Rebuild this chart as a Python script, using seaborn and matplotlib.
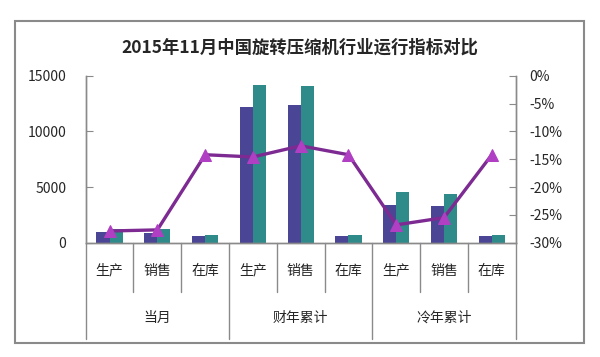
import pandas as pd
import seaborn as sns
import matplotlib.pyplot as plt
from matplotlib.patches import Rectangle

# 数据
cats = ['生产', '销售', '在库'] * 3
groups = ['当月', '财年累计', '冷年累计']
series = ['2015年', '2014年']
val_2015 = [950, 860, 570, 12160, 12380, 570, 3370, 3260, 570]
val_2014 = [1200, 1190, 690, 14200, 14110, 690, 4540, 4330, 690]
growth = [-27.9, -27.7, -14.2, -14.6, -12.6, -14.2, -26.8, -25.5, -14.2]

bar_colors = {'2015年': '#4a4594', '2014年': '#2e8b89'}
line_color = '#7d2b92'
marker_color = '#b03fc4'
axis_gray = '#8a8a8a'

sns.set_style('white')
plt.rcParams['font.family'] = ['Noto Sans CJK SC', 'DejaVu Sans']
plt.rcParams['axes.unicode_minus'] = False

pos = list(range(len(cats)))
df = pd.DataFrame({
    'pos': pos * 2,
    'value': val_2015 + val_2014,
    'series': [series[0]] * len(pos) + [series[1]] * len(pos),
})

fig = plt.figure(figsize=(6, 3.57), dpi=100)
ax = fig.add_axes([0.1428, 0.3202, 0.7167, 0.4678])

sns.barplot(data=df, x='pos', y='value', hue='series', hue_order=series,
            palette=bar_colors, width=0.55, gap=0, legend=False,
            saturation=1, linewidth=0, ax=ax)
ax.set_xlim(-0.5, 8.5)
ax.set_ylim(0, 15000)
ax.set_yticks([0, 5000, 10000, 15000])
ax.set_xticks([])
ax.set_xlabel('')
ax.set_ylabel('')
ax.tick_params(axis='y', direction='in', length=5, color=axis_gray,
               labelsize=10, pad=14)

ax2 = ax.twinx()
sns.lineplot(x=pos, y=growth, ax=ax2, color=line_color, linewidth=2.4,
             marker='^', markersize=9, markerfacecolor=marker_color,
             markeredgecolor=marker_color)
ax2.set_ylim(-30, 0)
ax2.set_yticks([0, -5, -10, -15, -20, -25, -30])
ax2.set_yticklabels([f'{v}%' for v in [0, -5, -10, -15, -20, -25, -30]])
ax2.tick_params(axis='y', direction='in', length=5, color=axis_gray,
                labelsize=10, pad=10)
ax2.set_xlim(-0.5, 8.5)

for a in (ax, ax2):
    a.spines['top'].set_visible(False)
    for side in ('left', 'right', 'bottom'):
        a.spines[side].set_color(axis_gray)
        a.spines[side].set_linewidth(1)

# 分类标签与分隔线
tr = ax.get_xaxis_transform()
for i, c in enumerate(cats):
    ax.text(i, -0.168, c, transform=tr, ha='center', va='center', fontsize=10)
for b in range(10):
    x = b - 0.5
    low = -0.577 if b % 3 == 0 else -0.293
    ax.plot([x, x], [0, low], transform=tr, color=axis_gray, lw=1,
            clip_on=False)
for g, name in enumerate(groups):
    ax.text(g * 3 + 1, -0.451, name, transform=tr, ha='center', va='center',
            fontsize=10)

fig.text(0.5, 0.866, '2015年11月中国旋转压缩机行业运行指标对比',
         ha='center', va='center', fontsize=12.5, fontweight='bold')

fig.patches.append(Rectangle((0.0245, 0.039), 0.949, 0.902,
                             transform=fig.transFigure, fill=False,
                             edgecolor=axis_gray, linewidth=1.5))

fig.savefig('out.png', dpi=100)
